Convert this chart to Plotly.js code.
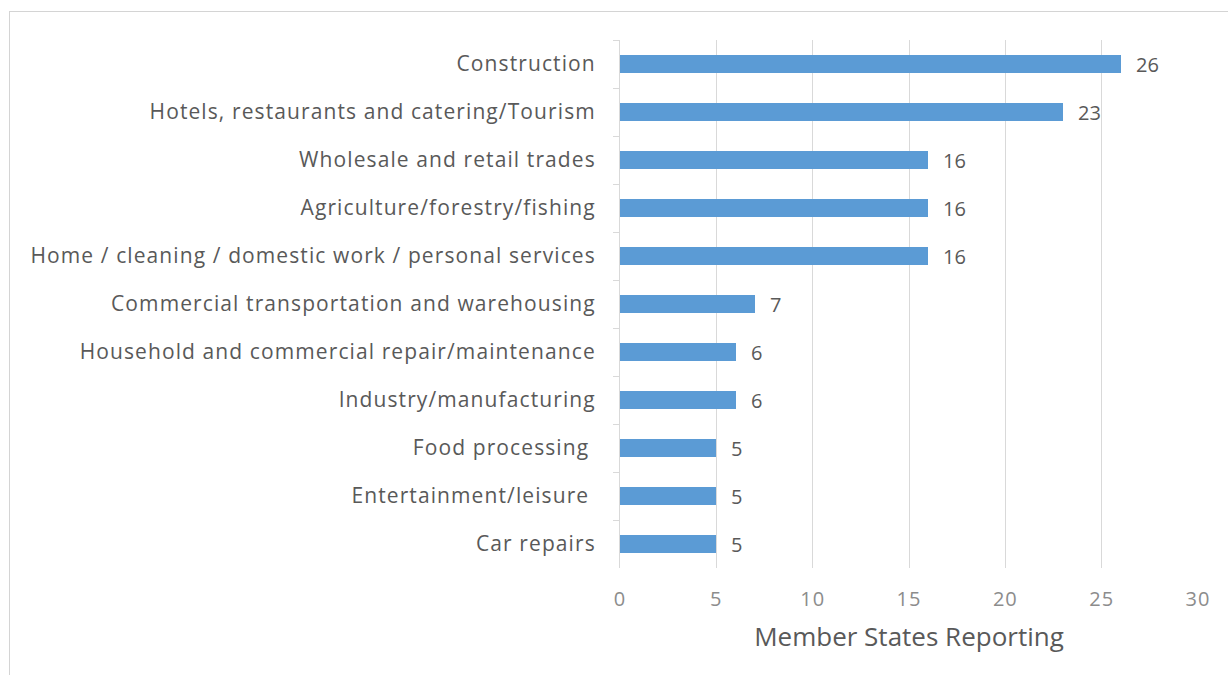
<!DOCTYPE html>
<html>
<head>
<meta charset="utf-8">
<script src="https://cdn.plot.ly/plotly-3.0.1.min.js"></script>
<style>
  html, body { margin: 0; padding: 0; background: #fff; }
  #frame { position: absolute; left: 9px; top: 11px; width: 1240px; height: 680px;
           border-left: 1px solid #d4d4d4; border-top: 1px solid #d4d4d4; pointer-events: none; }
  #chart { position: absolute; left: 0; top: 0; width: 1228px; height: 675px; }
  #chart .ytick text { letter-spacing: 1.1px; }
  #chart .xtick text { letter-spacing: 1px; }
</style>
</head>
<body>
<div id="chart"></div>
<div id="frame"></div>
<script>
const categories = [
  "Construction",
  "Hotels, restaurants and catering/Tourism",
  "Wholesale and retail trades",
  "Agriculture/forestry/fishing",
  "Home / cleaning / domestic work / personal services",
  "Commercial transportation and warehousing",
  "Household and commercial repair/maintenance",
  "Industry/manufacturing",
  "Food processing ",
  "Entertainment/leisure ",
  "Car repairs"
];
const values = [26, 23, 16, 16, 16, 7, 6, 6, 5, 5, 5];
const xTicks = [0, 5, 10, 15, 20, 25, 30];
const xTitle = "Member States Reporting";

const textColor = "#595959";
const fontFam = "'Open Sans', 'Noto Sans', sans-serif";

const trace = {
  type: "bar",
  orientation: "h",
  x: values,
  y: categories,
  width: 0.365,
  marker: { color: "#5B9BD5" },
  hoverinfo: "x+y"
};

const annotations = values.map((v, i) => ({
  x: v, y: categories[i], xref: "x", yref: "y",
  text: String(v), showarrow: false, xanchor: "left", xshift: 13,
  font: { family: fontFam, size: 20, color: textColor }
}));

const layout = {
  width: 1228, height: 675,
  margin: { l: 620, r: 30, t: 40, b: 107 },
  paper_bgcolor: "#ffffff", plot_bgcolor: "#ffffff",
  showlegend: false,
  bargap: 0,
  xaxis: {
    range: [0, 30], tickvals: xTicks, ticktext: xTicks.map(String),
    showgrid: true, gridcolor: "#d9d9d9", gridwidth: 1,
    zeroline: false, showline: false, ticks: "",
    ticklabelstandoff: 17,
    tickfont: { family: fontFam, size: 20, color: "#8c8c8c" },
    title: { text: xTitle, font: { family: fontFam, size: 26, color: textColor }, standoff: 16 },
    fixedrange: true
  },
  yaxis: {
    type: "category", autorange: "reversed",
    showline: true, linecolor: "#d9d9d9", linewidth: 1,
    ticks: "outside", ticklen: 6, tickcolor: "#d9d9d9", tickson: "boundaries",
    ticklabelstandoff: 19,
    showgrid: false, zeroline: false,
    tickfont: { family: fontFam, size: 21, color: textColor },
    fixedrange: true
  },
  annotations: annotations
};

Plotly.newPlot("chart", [trace], layout, { displayModeBar: false, staticPlot: true });
</script>
</body>
</html>
